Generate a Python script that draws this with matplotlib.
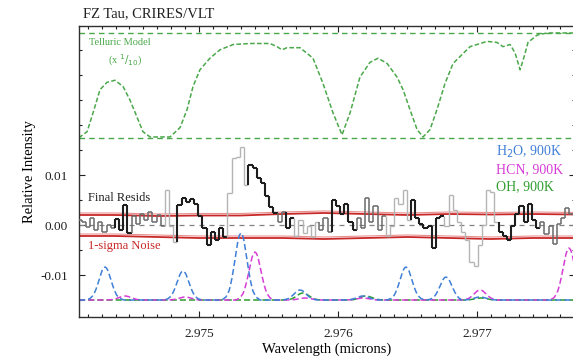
import numpy as np
import matplotlib
matplotlib.use("Agg")
import matplotlib.pyplot as plt
from matplotlib.collections import LineCollection
from matplotlib.ticker import MultipleLocator, FixedLocator

plt.rcParams['font.family'] = ['Liberation Serif', 'DejaVu Serif']

# ---------------- data ----------------
# Telluric model transmission (plotted scaled x 1/10 and offset)
tell_w = [2.974137, 2.974144, 2.974195, 2.974238, 2.974288, 2.974338, 2.974396, 2.974454,
          2.974504, 2.974554, 2.974597, 2.974648, 2.974792, 2.974864, 2.974914, 2.974957,
          2.975007, 2.975079, 2.975151, 2.975245, 2.975367, 2.975511, 2.975561, 2.975597,
          2.975633, 2.975727, 2.975820, 2.975892, 2.975964, 2.976029, 2.976087, 2.976158,
          2.976230, 2.976288, 2.976353, 2.976425, 2.976468, 2.976518, 2.976569, 2.976612,
          2.976662, 2.976712, 2.976770, 2.976828, 2.976950, 2.977072, 2.977144, 2.977187,
          2.977238, 2.977274, 2.977310, 2.977338, 2.977367, 2.977432, 2.977504, 2.977705]
tell_t = [0.00, 0.01, 0.06, 0.24, 0.46, 0.53, 0.55, 0.49, 0.36, 0.20,
          0.06, 0.01, 0.01, 0.10, 0.27, 0.49, 0.65, 0.76, 0.84, 0.89,
          0.90, 0.90, 0.87, 0.84, 0.86, 0.86, 0.76, 0.52, 0.24, 0.03,
          0.24, 0.58, 0.72, 0.76, 0.71, 0.58, 0.46, 0.27, 0.08, 0.01,
          0.08, 0.27, 0.52, 0.71, 0.87, 0.92, 0.91, 0.87, 0.89, 0.81,
          0.65, 0.77, 0.91, 0.98, 1.00, 1.00]
tell_zero = 0.0174     # level of zero transmission on the plot
tell_scale = 0.021     # plotted height of unit transmission

# Final residuals (units of 1e-3), sampled on a uniform wavelength grid
res_w0 = 2.97414
res_dw = 0.00003
resid = [1.0, 0.6, -0.4, 1.4, -1.0, 0.6, -1.4, 0.0, -0.6, 1.2,
         -1.0, 4.0, -1.6, 1.8, 0.2, 2.2, 1.0, 2.6, 0.6, 2.0,
         -0.2, 7.0, -0.2, -3.4, 4.0, 5.4, 4.6, 5.2, 4.2, 1.8,
         -0.6, -4.0, -1.4, -3.0, -0.6, -2.4, 6.4, 13.4, 13.6, 15.6,
         8.0, 12.0, 11.4, 9.4, 8.4, 5.8, 3.6, 2.4, 0.6, 2.6,
         -0.6, 1.4, -2.2, 1.0, -1.6, -0.2, -2.4, 0.6, -1.0, 1.4,
         -1.4, 5.0, 3.8, 2.2, 4.2, 0.6, -1.0, 1.4, -0.6, 5.4,
         0.6, 3.8, -1.0, 1.8, -2.2, -0.2, 5.4, 4.2, 7.0, 1.0,
         5.0, 1.4, 0.2, -0.6, -0.2, -4.6, 1.4, 1.8, -0.2, 6.0,
         3.0, 0.6, -1.4, -3.0, -7.4, -8.2, -4.0, 0.0, 7.0, 6.6,
         0.6, -1.4, -2.2, -3.0, -0.2, 2.2, 3.8, 0.6, 4.2, 1.0,
         -0.6, 0.6, -1.8, -0.2, -3.8, 0.2, 1.4, 3.4, 2.2]
# shade of each residual bin: g = mid grey, k = dark, l = light
resid_shade = ('g' * 9 + 'k' * 4 + 'g' * 8 + 'l' * 3 + 'k' * 12 + 'l' * 5 + 'k' * 7 +
               'g' * 2 + 'k' * 2 + 'l' * 6 + 'g' * 3 + 'k' * 6 + 'g' * 7 + 'l' * 6 +
               'k' * 8 + 'l' * 13 + 'k' * 10 + 'g' * 8)

# 1-sigma noise envelope (units of 1e-3)
noise_w = [2.97414, 2.97440, 2.97470, 2.97500, 2.97530, 2.97560, 2.97590,
           2.97620, 2.97650, 2.97680, 2.97710, 2.97740, 2.97771]
noise_hi = [2.0, 2.0, 1.8, 1.9, 1.9, 2.2, 2.4, 2.2, 2.0, 2.2, 2.1, 2.2, 2.1]
noise_lo = [-2.2, -2.2, -2.4, -2.6, -2.6, -2.6, -2.8, -2.6, -2.4, -2.6, -2.8, -2.6, -2.6]

# Model line lists (centre wavelength, depth in units of 1e-3 above the baseline)
model_base = -0.015
h2o_w = [2.974324, 2.974885, 2.975302, 2.975727, 2.976180, 2.976489, 2.976777, 2.977022]
h2o_d = [6.6, 5.8, 13.4, 2.0, 0.8, 6.6, 4.6, 0.6]
hcn_w = [2.974468, 2.974900, 2.975403, 2.975763, 2.976180, 2.977022, 2.977662]
hcn_d = [0.8, 0.6, 9.6, 0.4, 0.4, 2.0, 10.4]
oh_w = [2.975748, 2.976202, 2.977029]
oh_d = [1.4, 0.8, 0.4]
# line profile shape read from the plotted peaks
prof_dw = [-0.000138, -0.000108, -0.000086, -0.000076, -0.000065, -0.000054, -0.000043,
           -0.000032, -0.000022, -0.000011, 0.0, 0.000011, 0.000022, 0.000032, 0.000043,
           0.000054, 0.000065, 0.000076, 0.000086, 0.000108, 0.000138]
prof_f = [0.0, 0.044, 0.135, 0.216, 0.325, 0.458, 0.607, 0.755, 0.882, 0.969, 1.0,
          0.969, 0.882, 0.755, 0.607, 0.458, 0.325, 0.216, 0.135, 0.044, 0.0]

xticks = [2.975, 2.976, 2.977]
yticks = [-0.01, 0.0, 0.01]
ytick_labels = ['-0.01', '0.00', '0.01']

XMIN, XMAX = 2.974137, 2.977705
YMIN, YMAX = -0.0184, 0.0398

# ---------------- figure ----------------
fig = plt.figure(figsize=(5.73, 3.58), dpi=100)
ax = fig.add_axes([0.1379, 0.1145, 0.8656, 0.8129])
ax.set_xlim(XMIN, XMAX)
ax.set_ylim(YMIN, YMAX)

green_t = '#4aa84a'
# telluric reference lines (0 and 1 transmission)
ax.axhline(tell_zero, color=green_t, ls=(0, (4, 3)), lw=1.0)
ax.axhline(tell_zero + tell_scale, color=green_t, ls=(0, (4, 3)), lw=1.0)
ax.plot(tell_w, tell_zero + tell_scale * np.array(tell_t), color=green_t,
        ls=(0, (3, 1.5)), lw=1.1)

# zero line
ax.axhline(0.0, color='#808080', ls=(0, (4, 4)), lw=0.9)

# noise envelope
nw = np.array(noise_w)
for arr in (noise_hi, noise_lo):
    a = np.array(arr) * 1e-3
    ax.plot(nw, a + 0.0004, color='#e89090', lw=0.8)
    ax.plot(nw, a, color='#c82828', lw=1.3)

# residual step curve with varying shade
shade_col = {'k': '#1e1e1e', 'g': '#6a6a6a', 'l': '#b4b4b4'}
shade_lw = {'k': 1.5, 'g': 1.1, 'l': 1.0}
rv = np.array(resid) * 1e-3
n = len(rv)
segs, cols, lws = [], [], []
for i in range(n):
    w0 = res_w0 + (i - 0.5) * res_dw
    w1 = res_w0 + (i + 0.5) * res_dw
    c = resid_shade[i]
    segs.append([(w0, rv[i]), (w1, rv[i])])
    cols.append(shade_col[c]); lws.append(shade_lw[c])
    if i > 0:
        segs.append([(w0, rv[i - 1]), (w0, rv[i])])
        cols.append(shade_col[c]); lws.append(shade_lw[c])
ax.add_collection(LineCollection(segs, colors=cols, linewidths=lws, zorder=3))

# models
def model_curve(centres, depths):
    xs = [XMIN]
    ys = [model_base]
    pts = []
    for c, d in zip(centres, depths):
        for dw, f in zip(prof_dw, prof_f):
            pts.append((c + dw, model_base + d * 1e-3 * f))
    pts.sort()
    for p in pts:
        xs.append(p[0]); ys.append(p[1])
    xs.append(XMAX + 0.0001); ys.append(model_base)
    return xs, ys

for centres, depths, col in ((oh_w, oh_d, '#2e9e2e'),
                             (hcn_w, hcn_d, '#d63cd6'),
                             (h2o_w, h2o_d, '#3f7fd6')):
    xs, ys = model_curve(centres, depths)
    ax.plot(xs, ys, color=col, ls=(0, (4, 2)), lw=1.1, zorder=2)

# ticks
ax.xaxis.set_major_locator(FixedLocator(xticks))
ax.set_xticklabels(['%.3f' % t for t in xticks])
ax.xaxis.set_minor_locator(MultipleLocator(0.0001))
ax.set_yticks(yticks)
ax.set_yticklabels(ytick_labels)
ax.yaxis.set_minor_locator(MultipleLocator(0.005))
ax.tick_params(which='both', direction='in', top=True, right=True,
               labelsize=9.5, width=0.8, colors='#202020')
ax.tick_params(which='major', length=4.5, pad=8)
ax.tick_params(which='minor', length=2.5)
for s in ax.spines.values():
    s.set_color('#303030'); s.set_linewidth(1.0)

ax.set_xlabel('Wavelength (microns)', fontsize=10.5, labelpad=2)
ax.set_ylabel('Relative Intensity', fontsize=10.5, labelpad=3)

# annotations
fig.text(0.145, 0.963, 'FZ Tau, CRIRES/VLT', fontsize=10.5, ha='left', va='center',
         color='#202020')
ax.text(2.97443, 0.0364, 'Telluric Model', fontsize=7.5, color=green_t,
        ha='center', va='center')
ax.text(2.97447, 0.0330, r'(x $^{1}/_{10}$)', fontsize=7.5, color=green_t,
        ha='center', va='center')
ax.text(2.97420, 0.0055, 'Final Resids', fontsize=9, color='#202020',
        ha='left', va='center')
ax.text(2.97420, -0.0042, '1-sigma Noise', fontsize=9, color='#c82828',
        ha='left', va='center')
ax.text(2.97714, 0.0146, r'H$_2$O, 900K', fontsize=10, color='#3f7fd6',
        ha='left', va='center')
ax.text(2.97714, 0.0110, 'HCN, 900K', fontsize=10, color='#d63cd6',
        ha='left', va='center')
ax.text(2.97714, 0.0076, 'OH, 900K', fontsize=10, color='#2e9e2e',
        ha='left', va='center')

fig.savefig('out.png', dpi=100)
